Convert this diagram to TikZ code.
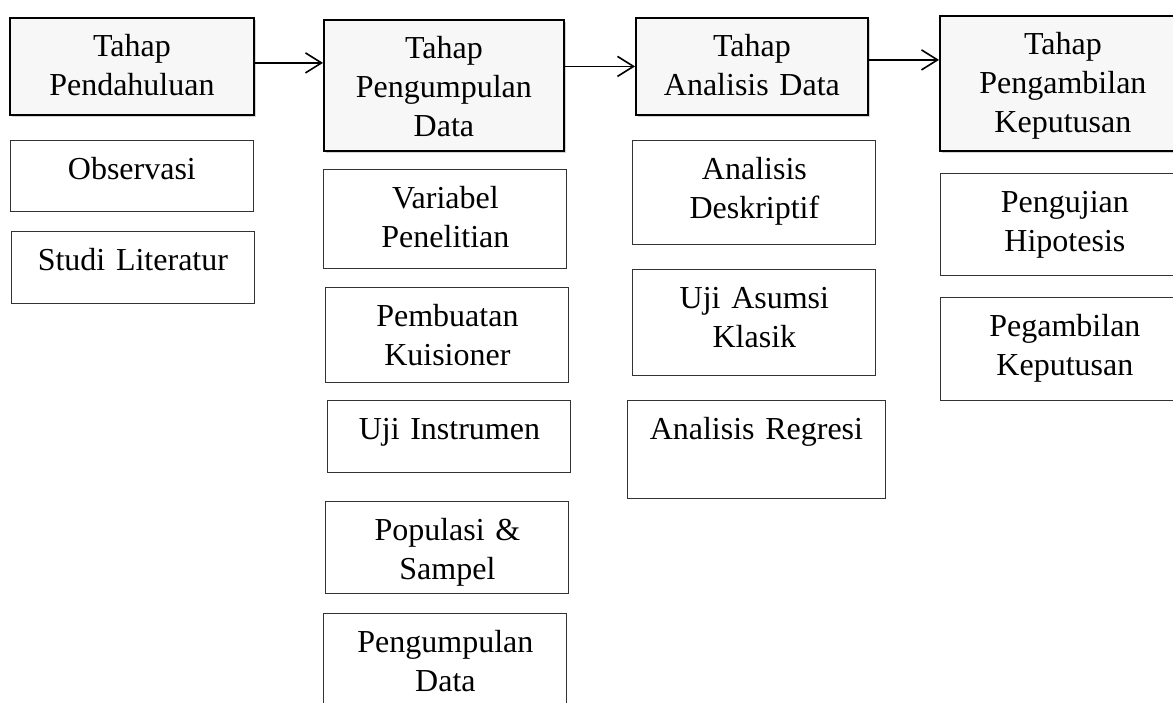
\documentclass[tikz,border=0pt]{standalone}
\usepackage{fontspec}
\setmainfont{Liberation Serif}
\usetikzlibrary{arrows.meta,positioning,shadows}

\begin{document}
\begin{tikzpicture}[
  node distance=10pt,
  >={Straight Barb[length=8pt,width=10pt]},
  font=\fontsize{16pt}{19.5pt}\selectfont,
  stage/.style={draw, line width=0.9pt, fill=gray!6, align=center, inner sep=0pt,
                text height=19.5pt, text width=120pt,
                drop shadow={shadow xshift=1.2pt, shadow yshift=-1.2pt, opacity=0.35}},
  task/.style={draw=black!80, line width=0.5pt, align=center, inner sep=0pt,
               text height=19.5pt, text width=121.5pt},
  flow/.style={->, line width=0.8pt}
]
  \clip (0,0) rectangle (586.5pt,-351pt);

  \node[stage, text width=122pt, text depth=29pt, anchor=north west] (pendahuluan) at (4.5pt,-8.5pt) {Tahap\\Pendahuluan};
  \node[stage, text width=120pt, text depth=46pt, anchor=north west] (pengumpulan) at (161.5pt,-9.5pt) {Tahap\\Pengumpulan\\Data};
  \node[stage, text width=116pt, text depth=29pt, anchor=north west] (analisis) at (317.5pt,-8.5pt) {Tahap\\Analisis Data};
  \node[stage, text width=123pt, text depth=48pt, anchor=north west] (keputusan) at (469.5pt,-7.5pt) {Tahap\\Pengambilan\\Keputusan};

  \node[task, text depth=16pt, below=12pt of pendahuluan] (observasi) {Observasi};
  \node[task, text depth=16.5pt, below=9.5pt of observasi, xshift=0.5pt] (literatur) {Studi Literatur};

  \node[task, text depth=30pt, below=8.5pt of pengumpulan, xshift=0.75pt] (variabel) {Variabel\\Penelitian};
  \node[task, text depth=28pt, below=9pt of variabel, xshift=1pt] (kuisioner) {Pembuatan\\Kuisioner};
  \node[task, text depth=16.5pt, below=8.5pt of kuisioner, xshift=1pt] (instrumen) {Uji Instrumen};
  \node[task, text depth=26.5pt, below=14pt of instrumen, xshift=-1pt] (populasi) {Populasi \&\\Sampel};
  \node[task, text depth=30.5pt, below=9.5pt of populasi, xshift=-1pt] (pengdata) {Pengumpulan\\Data};

  \node[task, text depth=32.5pt, below=12pt of analisis, xshift=1.25pt] (deskriptif) {Analisis\\Deskriptif};
  \node[task, text depth=33.5pt, below=12pt of deskriptif] (asumsi) {Uji Asumsi\\Klasik};
  \node[task, text width=129pt, text depth=29.5pt, below=12pt of asumsi, xshift=1pt] (regresi) {Analisis Regresi};

  \node[task, text width=124pt, text depth=31.5pt, below=10.5pt of keputusan, xshift=1pt] (hipotesis) {Pengujian\\Hipotesis};
  \node[task, text width=124pt, text depth=32pt, below=10.5pt of hipotesis] (pegambilan) {Pegambilan\\Keputusan};

  \draw[flow] ([yshift=1.75pt]pendahuluan.east) -- ([yshift=1.75pt]pendahuluan.east -| pengumpulan.west);
  \draw[flow] (analisis.west -| pengumpulan.east) -- (analisis.west);
  \draw[flow] ([yshift=3.25pt]analisis.east) -- ([yshift=3.25pt]analisis.east -| keputusan.west);
\end{tikzpicture}
\end{document}
